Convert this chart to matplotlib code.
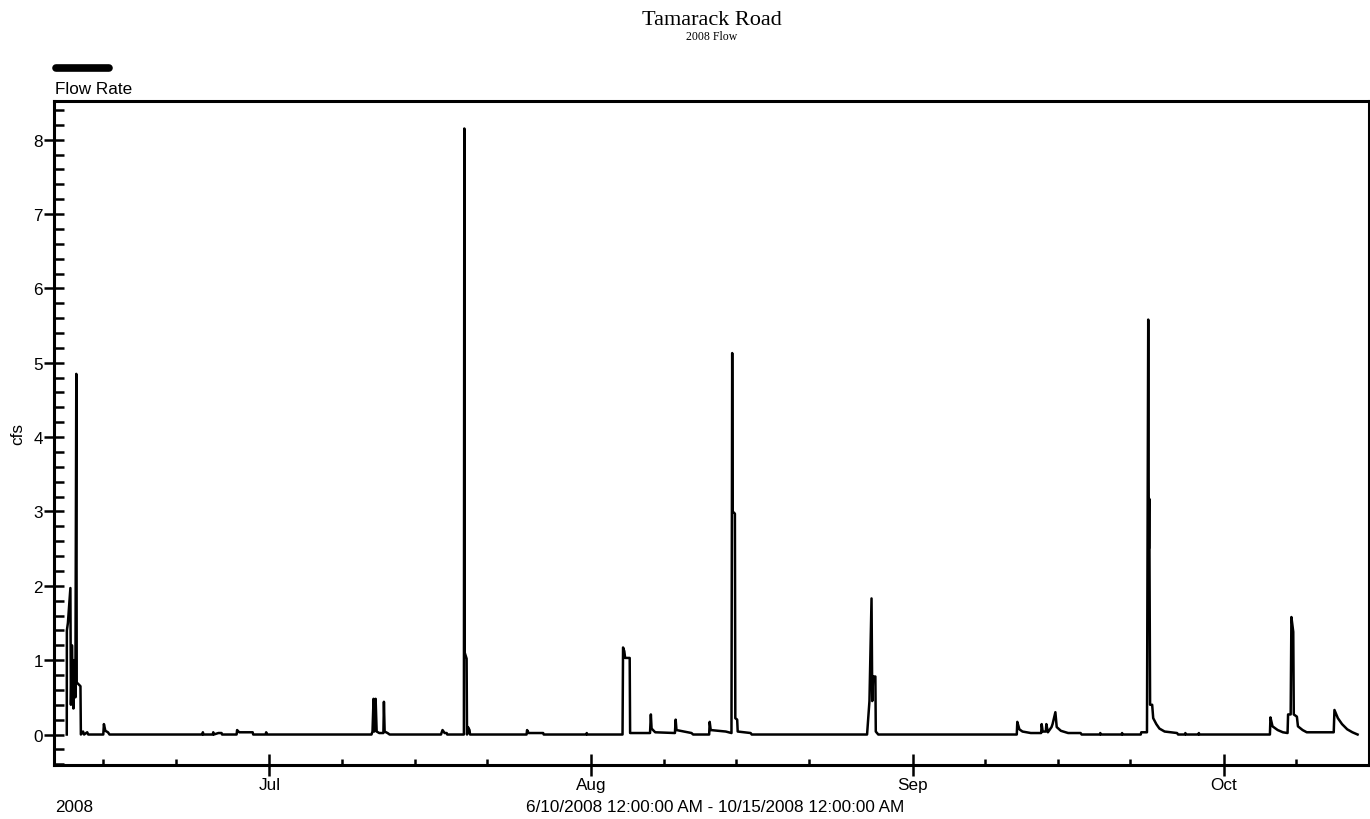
import pandas as pd
import matplotlib
matplotlib.use('Agg')
import matplotlib.pyplot as plt
import matplotlib.dates as mdates
from matplotlib.lines import Line2D

#%% data (days since 6/10/2008 00:00, flow in cfs)

start = pd.Timestamp('2008-06-10')
end = pd.Timestamp('2008-10-15')

t_days = [1.48, 1.49, 1.59, 1.83, 1.88, 1.98, 2.12, 2.22, 2.31, 2.40, 2.44, 2.80, 2.84,
          3.05, 3.15, 3.45, 3.55, 5.00, 5.06, 5.20, 5.45, 5.60,
          14.55, 14.60, 14.65, 15.55, 15.60, 15.65, 16.10, 16.40, 16.45,
          17.85, 17.90, 18.10, 19.40, 19.45, 20.65, 20.70, 20.80,
          30.85, 30.95, 31.05, 31.12, 31.25, 31.35, 31.60, 32.00, 32.05, 32.12, 32.40, 32.60,
          37.55, 37.70, 37.90, 38.10, 38.15,
          39.76, 39.80, 39.84, 40.02, 40.06, 40.15, 40.30, 40.35,
          45.80, 45.85, 46.00, 47.40, 47.45, 51.55, 51.60, 51.65,
          55.05, 55.10, 55.22, 55.30, 55.74, 55.78, 57.70, 57.78, 57.85, 58.20,
          60.10, 60.17, 60.25, 61.70, 61.85, 63.40, 63.45, 63.55, 65.00, 65.55,
          65.62, 65.66, 65.88, 65.92, 66.10, 66.15, 67.40, 67.50,
          78.62, 78.85, 79.05, 79.12, 79.20, 79.42, 79.46, 79.70,
          93.05, 93.10, 93.30, 93.60, 94.40, 95.10, 95.40, 95.45, 95.55, 95.85, 95.90,
          96.05, 96.40, 96.50, 96.77, 96.90, 97.30, 98.00, 99.20, 99.30,
          101.05, 101.10, 101.15, 103.15, 103.20, 103.25,
          105.00, 105.05, 105.60, 105.72, 105.78, 105.82, 105.90, 106.10, 106.20,
          106.50, 106.80, 107.30, 108.50, 108.60, 109.25, 109.30, 109.35,
          110.55, 110.60, 110.65,
          117.45, 117.50, 117.70, 118.20, 118.70, 119.15, 119.20, 119.45, 119.52,
          119.70, 119.75, 120.05, 120.15, 120.60, 121.00, 123.60, 123.67, 124.00,
          124.40, 124.90, 125.40, 125.90]

flow = [0.0, 1.40, 1.50, 1.97, 0.40, 1.20, 0.35, 1.00, 0.50, 4.85, 0.70, 0.65, 0.0,
        0.04, 0.0, 0.03, 0.0, 0.0, 0.14, 0.05, 0.03, 0.0,
        0.0, 0.03, 0.0, 0.0, 0.03, 0.0, 0.02, 0.02, 0.0,
        0.0, 0.06, 0.03, 0.03, 0.0, 0.0, 0.03, 0.0,
        0.0, 0.04, 0.48, 0.04, 0.48, 0.04, 0.02, 0.02, 0.44, 0.04, 0.02, 0.0,
        0.0, 0.06, 0.02, 0.02, 0.0,
        0.0, 8.15, 1.10, 1.02, 0.0, 0.10, 0.06, 0.0,
        0.0, 0.06, 0.02, 0.02, 0.0, 0.0, 0.02, 0.0,
        0.0, 1.17, 1.12, 1.03, 1.03, 0.02, 0.02, 0.27, 0.08, 0.03,
        0.02, 0.20, 0.06, 0.02, 0.0, 0.0, 0.17, 0.06, 0.04, 0.02,
        5.13, 3.00, 2.97, 0.22, 0.20, 0.04, 0.02, 0.0,
        0.0, 0.45, 1.83, 0.45, 0.78, 0.78, 0.04, 0.0,
        0.0, 0.17, 0.07, 0.04, 0.02, 0.02, 0.02, 0.14, 0.04, 0.04, 0.14,
        0.03, 0.10, 0.14, 0.30, 0.10, 0.05, 0.02, 0.02, 0.0,
        0.0, 0.02, 0.0, 0.0, 0.02, 0.0,
        0.0, 0.03, 0.03, 5.58, 2.50, 3.17, 0.40, 0.40, 0.22,
        0.14, 0.08, 0.04, 0.02, 0.0, 0.0, 0.02, 0.0,
        0.0, 0.02, 0.0,
        0.0, 0.23, 0.11, 0.06, 0.03, 0.02, 0.27, 0.27, 1.58,
        1.38, 0.27, 0.24, 0.11, 0.06, 0.03, 0.03, 0.33, 0.22,
        0.14, 0.07, 0.03, 0.0]

month_labels = ['Jul', 'Aug', 'Sep', 'Oct']

dates = start + pd.to_timedelta(t_days, unit='D')

#%% plot

sans = 'Liberation Sans'
serif = 'Liberation Serif'

fig = plt.figure(figsize=(13.7, 8.2), dpi=100)
ax = fig.add_axes([54/1370, 1 - 766/820, (1369 - 54)/1370, (766 - 102)/820])

ax.plot(dates, flow, color='black', lw=1.8)

ax.set_xlim(start + pd.Timedelta(hours=6), end)
ax.set_ylim(-0.41, 8.52)

ax.xaxis.set_major_locator(mdates.MonthLocator())
ax.xaxis.set_major_formatter(mdates.DateFormatter('%b'))
ax.xaxis.set_minor_locator(mdates.DayLocator(bymonthday=[8, 15, 22]))
ax.set_yticks(range(0, 9))
ax.yaxis.set_minor_locator(plt.MultipleLocator(0.2))

ax.tick_params(axis='both', which='major', direction='inout', width=1.8,
               labelsize=12.3, colors='black', pad=1)
ax.tick_params(axis='y', which='major', length=14)
ax.tick_params(axis='x', which='major', length=16)
ax.tick_params(axis='y', which='minor', direction='in', length=7.5, width=1.8)
ax.tick_params(axis='x', which='minor', direction='in', length=4.5, width=1.8)
for lab in ax.get_xticklabels() + ax.get_yticklabels():
    lab.set_family(sans)

for s in ax.spines.values():
    s.set_linewidth(2.2)

ax.set_ylabel('cfs', family=sans, fontsize=12.3)
ax.yaxis.set_label_coords(-0.0215, 0.5)

# titles
fig.text(0.5197, 0.987, 'Tamarack Road', family=serif, fontsize=16,
         ha='center', va='top')
fig.text(0.5197, 0.962, '2008 Flow', family=serif, fontsize=8.5,
         ha='center', va='top')

# legend-like key above the plot
fig.add_artist(Line2D([56/1370, 109/1370], [1 - 69/820, 1 - 69/820],
                      color='black', lw=5.5, solid_capstyle='round'))
fig.text(55/1370, 1 - 90/820, 'Flow Rate', family=sans, fontsize=12.3,
         ha='left', va='center')

# footer
fig.text(55/1370, 1 - 808/820, '2008', family=sans, fontsize=12.3,
         ha='left', va='center')
fig.text(715/1370, 1 - 808/820,
         '6/10/2008 12:00:00 AM - 10/15/2008 12:00:00 AM',
         family=sans, fontsize=12.3, ha='center', va='center')

plt.savefig('out.png', dpi=100)
